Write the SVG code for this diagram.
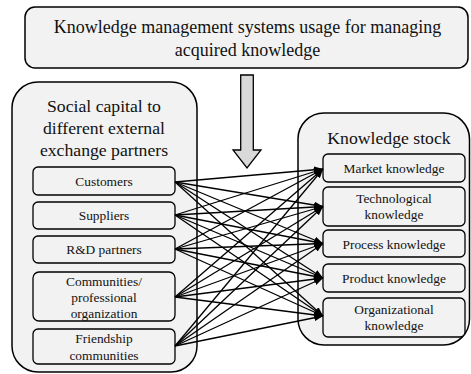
<svg xmlns="http://www.w3.org/2000/svg" width="471" height="374" viewBox="0 0 471 374">
  <defs>
    <marker id="head" viewBox="0 0 9 7" refX="9" refY="3.5" markerWidth="9" markerHeight="7" markerUnits="userSpaceOnUse" orient="auto">
      <path d="M0,0 L9,3.5 L0,7 z" fill="#000"/>
    </marker>
    <style>
      .outer { fill: #f2f2f2; stroke: #000; stroke-width: 1.5; }
      .inner { fill: #f2f2f2; stroke: #000; stroke-width: 1.3; }
      text { font-family: "Liberation Serif", "Times New Roman", serif; fill: #111; text-anchor: middle; }
      .head { font-size: 18px; }
      .title { font-size: 17.7px; }
      .label { font-size: 13.4px; }
      .link { stroke: #000; stroke-width: 1.3; fill: none; marker-end: url(#head); }
    </style>
  </defs>
  <rect width="471" height="374" fill="#fff"/>

  <!-- top: KMS usage -->
  <g id="kms">
    <rect class="outer" x="25" y="7" width="443" height="61" rx="10"/>
    <text class="head" x="247.5" y="33">Knowledge management systems usage for managing</text>
    <text class="head" x="247.5" y="56">acquired knowledge</text>
  </g>

  <!-- moderating block arrow -->
  <g id="moderation">
    <path d="M240.7,75 L253.3,75 L253.3,150 L261,150 L247,168 L233,150 L240.7,150 z" fill="#d9d9d9" stroke="#000" stroke-width="1.3"/>
  </g>

  <!-- left: social capital -->
  <g id="social-capital">
    <rect class="outer" x="12" y="82" width="185" height="290" rx="26"/>
    <text class="title" x="104" y="111.5">Social capital to</text>
    <text class="title" x="104" y="133.5">different external</text>
    <text class="title" x="104" y="155.5">exchange partners</text>
  </g>
  <g id="customers">
    <rect class="inner" x="33" y="167" width="142" height="28" rx="5"/>
    <text class="label" x="104" y="186">Customers</text>
  </g>
  <g id="suppliers">
    <rect class="inner" x="33" y="202" width="142" height="27" rx="5"/>
    <text class="label" x="104" y="219.5">Suppliers</text>
  </g>
  <g id="rd-partners">
    <rect class="inner" x="33" y="236" width="142" height="27" rx="5"/>
    <text class="label" x="104" y="254">R&amp;D partners</text>
  </g>
  <g id="communities">
    <rect class="inner" x="33" y="272" width="142" height="49" rx="6"/>
    <text class="label" x="104" y="285.5">Communities/</text>
    <text class="label" x="104" y="302">professional</text>
    <text class="label" x="104" y="317.5">organization</text>
  </g>
  <g id="friendship">
    <rect class="inner" x="33" y="329" width="142" height="35" rx="5"/>
    <text class="label" x="104" y="343">Friendship</text>
    <text class="label" x="104" y="359.5">communities</text>
  </g>

  <!-- right: knowledge stock -->
  <g id="knowledge-stock">
    <rect class="outer" x="298" y="113" width="171.5" height="232" rx="26"/>
    <text class="title" x="389" y="144.3">Knowledge stock</text>
  </g>
  <g id="market">
    <rect class="inner" x="323" y="154" width="142" height="28" rx="5"/>
    <text class="label" x="394" y="172.7">Market knowledge</text>
  </g>
  <g id="technological">
    <rect class="inner" x="323" y="187" width="142" height="39" rx="5"/>
    <text class="label" x="394" y="202.7">Technological</text>
    <text class="label" x="394" y="218.5">knowledge</text>
  </g>
  <g id="process">
    <rect class="inner" x="323" y="230" width="142" height="27" rx="5"/>
    <text class="label" x="394" y="249">Process knowledge</text>
  </g>
  <g id="product">
    <rect class="inner" x="323" y="264" width="142" height="28" rx="5"/>
    <text class="label" x="394" y="282.7">Product knowledge</text>
  </g>
  <g id="organizational">
    <rect class="inner" x="323" y="298" width="142" height="39" rx="5"/>
    <text class="label" x="394" y="314">Organizational</text>
    <text class="label" x="394" y="329.5">knowledge</text>
  </g>

  <!-- every partner type links to every knowledge type -->
  <g id="connectors">
    <path class="link" d="M175,182 L323,169"/>
    <path class="link" d="M175,182 L323,206.5"/>
    <path class="link" d="M175,182 L323,243.5"/>
    <path class="link" d="M175,182 L323,278"/>
    <path class="link" d="M175,182 L323,316"/>
    <path class="link" d="M175,215 L323,169"/>
    <path class="link" d="M175,215 L323,206.5"/>
    <path class="link" d="M175,215 L323,243.5"/>
    <path class="link" d="M175,215 L323,278"/>
    <path class="link" d="M175,215 L323,316"/>
    <path class="link" d="M175,249 L323,169"/>
    <path class="link" d="M175,249 L323,206.5"/>
    <path class="link" d="M175,249 L323,243.5"/>
    <path class="link" d="M175,249 L323,278"/>
    <path class="link" d="M175,249 L323,316"/>
    <path class="link" d="M175,297 L323,169"/>
    <path class="link" d="M175,297 L323,206.5"/>
    <path class="link" d="M175,297 L323,243.5"/>
    <path class="link" d="M175,297 L323,278"/>
    <path class="link" d="M175,297 L323,316"/>
    <path class="link" d="M175,346 L323,169"/>
    <path class="link" d="M175,346 L323,206.5"/>
    <path class="link" d="M175,346 L323,243.5"/>
    <path class="link" d="M175,346 L323,278"/>
    <path class="link" d="M175,346 L323,316"/>
  </g>
</svg>
